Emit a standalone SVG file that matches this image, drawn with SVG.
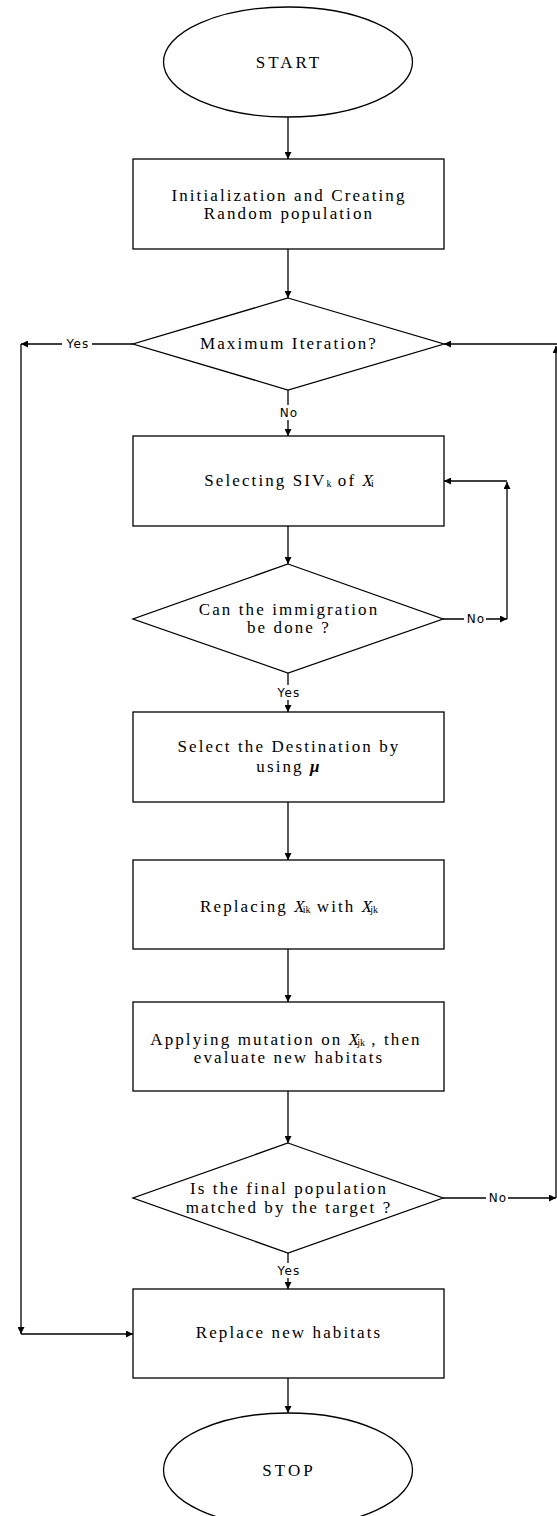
<svg xmlns="http://www.w3.org/2000/svg" width="557" height="1516" viewBox="0 0 557 1516">
<defs>
<marker id="ah" markerUnits="userSpaceOnUse" markerWidth="8" markerHeight="7" refX="7" refY="3.5" orient="auto">
<path d="M0,0 L7,3.5 L0,7 z" fill="#000"/>
</marker>
<style>
.sh{fill:#fff;stroke:#000;stroke-width:1.3}
.t{font-family:"Liberation Serif","Times New Roman",serif;font-size:17px;letter-spacing:2.1px;fill:#000;text-anchor:middle}
.c{fill:none;stroke:#000;stroke-width:1.3}
.a{fill:none;stroke:#000;stroke-width:1.3;marker-end:url(#ah)}
.l{font-family:"DejaVu Sans",Verdana,sans-serif;font-size:12px;letter-spacing:1.2px;fill:#000;text-anchor:middle}
.bg{fill:#fff}
.sub{font-size:10px;letter-spacing:0}
.x{font-style:italic;letter-spacing:0}
</style>
</defs>
<rect width="557" height="1516" fill="#fff"/>
<g id="connectors">
<line class="a" x1="288" y1="117" x2="288" y2="159"/>
<line class="a" x1="288" y1="249" x2="288" y2="298"/>
<line class="a" x1="133" y1="344" x2="21" y2="344"/>
<line class="a" x1="21" y1="344" x2="21" y2="1334"/>
<line class="a" x1="21" y1="1334" x2="133" y2="1334"/>
<line class="a" x1="288" y1="390" x2="288" y2="436"/>
<line class="a" x1="288" y1="526" x2="288" y2="564"/>
<line class="a" x1="443" y1="619" x2="507" y2="619"/>
<line class="a" x1="507" y1="619" x2="507" y2="482"/>
<line class="a" x1="507" y1="481" x2="444" y2="481"/>
<line class="a" x1="288" y1="673" x2="288" y2="712"/>
<line class="a" x1="288" y1="802" x2="288" y2="860"/>
<line class="a" x1="288" y1="949" x2="288" y2="1002"/>
<line class="a" x1="288" y1="1091" x2="288" y2="1143"/>
<line class="a" x1="443" y1="1198" x2="556" y2="1198"/>
<line class="a" x1="556" y1="1198" x2="556" y2="346"/>
<line class="a" x1="557" y1="344" x2="444" y2="344"/>
<line class="a" x1="288" y1="1253" x2="288" y2="1289"/>
<line class="a" x1="288" y1="1378" x2="288" y2="1413"/>
<rect class="bg" x="62" y="336" width="30" height="15"/>
<text class="l" x="78" y="348">Yes</text>
<rect class="bg" x="277" y="405" width="22" height="15"/>
<text class="l" x="289" y="417">No</text>
<rect class="bg" x="464" y="611" width="22" height="15"/>
<text class="l" x="476" y="623">No</text>
<rect class="bg" x="273" y="685" width="30" height="15"/>
<text class="l" x="289" y="697">Yes</text>
<rect class="bg" x="486" y="1190" width="22" height="15"/>
<text class="l" x="498" y="1202">No</text>
<rect class="bg" x="273" y="1263" width="30" height="15"/>
<text class="l" x="289" y="1275">Yes</text>
</g>
<g id="start">
<ellipse class="sh" cx="288" cy="62" rx="124.5" ry="55"/>
<text class="t" x="289" y="68" style="letter-spacing:3px">START</text>
</g>
<g id="init">
<rect class="sh" x="133" y="159" width="311" height="90"/>
<text class="t" x="289" y="201">Initialization and Creating</text>
<text class="t" x="289" y="219">Random population</text>
</g>
<g id="maxiter">
<polygon class="sh" points="288,298 444,344 288,390 133,344"/>
<text class="t" x="289" y="349">Maximum Iteration?</text>
</g>
<g id="selectsiv">
<rect class="sh" x="133" y="436" width="311" height="90"/>
<text class="t" x="289" y="486">Selecting SIV<tspan class="sub" dy="1">k</tspan><tspan dy="-1"> of </tspan><tspan class="x">X</tspan><tspan class="sub" dx="-2" dy="1">i</tspan></text>
</g>
<g id="canimmig">
<polygon class="sh" points="288,564 443,619 288,673 133,619"/>
<text class="t" x="289" y="615">Can the immigration</text>
<text class="t" x="289" y="633">be done ?</text>
</g>
<g id="selectdest">
<rect class="sh" x="133" y="712" width="311" height="90"/>
<text class="t" x="289" y="752">Select the Destination by</text>
<text class="t" x="289" y="772">using <tspan style="font-style:italic;font-weight:bold">μ</tspan></text>
</g>
<g id="replacing">
<rect class="sh" x="133" y="860" width="311" height="89"/>
<text class="t" x="289" y="912">Replacing <tspan class="x">X</tspan><tspan class="sub" dx="-2" dy="1">ik</tspan><tspan dy="-1"> with </tspan><tspan class="x">X</tspan><tspan class="sub" dx="-2" dy="1">jk</tspan></text>
</g>
<g id="mutation">
<rect class="sh" x="133" y="1002" width="311" height="89"/>
<text class="t" x="286" y="1045">Applying mutation on <tspan class="x">X</tspan><tspan class="sub" dx="-2" dy="1">jk</tspan><tspan dy="-1"> , then</tspan></text>
<text class="t" x="289" y="1063">evaluate new habitats</text>
</g>
<g id="finalpop">
<polygon class="sh" points="288,1143 443,1198 288,1253 133,1198"/>
<text class="t" x="289" y="1194">Is the final population</text>
<text class="t" x="289" y="1213">matched by the target ?</text>
</g>
<g id="replacenew">
<rect class="sh" x="133" y="1289" width="311" height="89"/>
<text class="t" x="289" y="1338">Replace new habitats</text>
</g>
<g id="stop">
<ellipse class="sh" cx="288" cy="1470" rx="124.5" ry="57"/>
<text class="t" x="289" y="1476" style="letter-spacing:3px">STOP</text>
</g>
</svg>
